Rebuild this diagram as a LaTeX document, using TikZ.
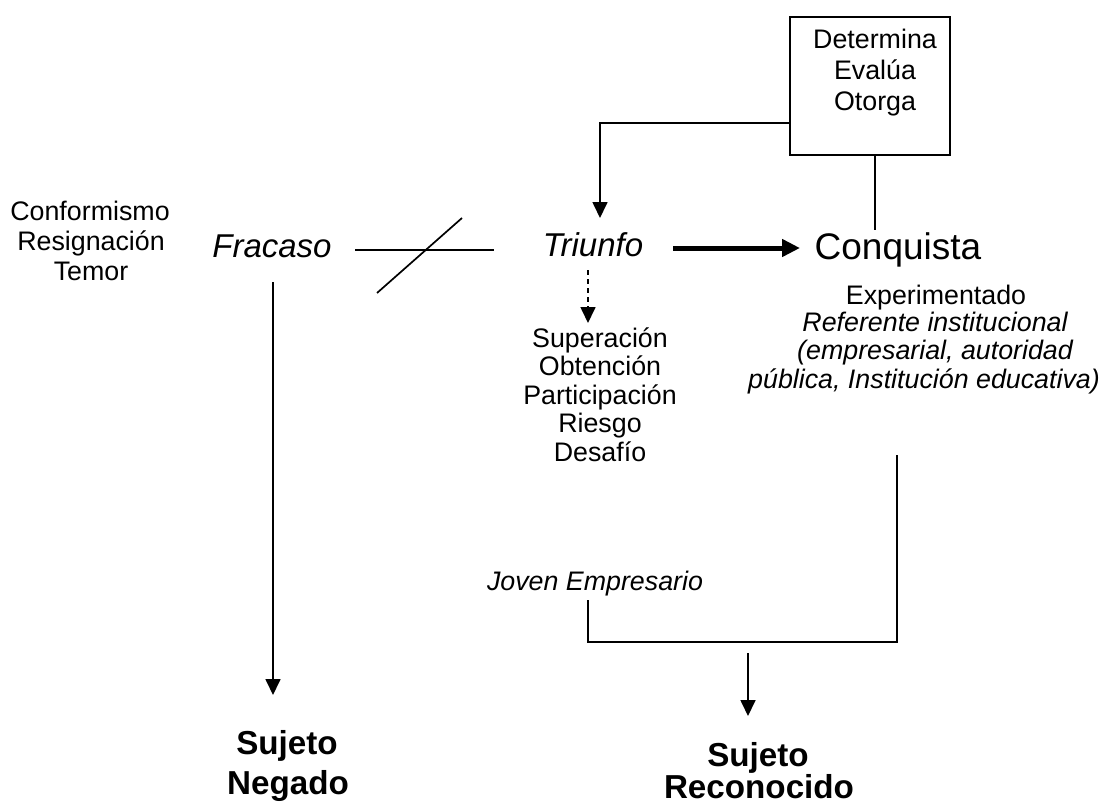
\documentclass[tikz,border=0pt]{standalone}
\usepackage{fontspec}
\setmainfont{Liberation Sans}
\usetikzlibrary{arrows.meta}
\tikzset{
  txt/.style={inner sep=0pt, anchor=base, font=\fontsize{26.8}{31}\selectfont},
  itsm/.style={inner sep=0pt, anchor=base, font=\fontsize{26.8}{31}\selectfont\itshape},
  big/.style={inner sep=0pt, anchor=base, font=\fontsize{33}{38}\selectfont\itshape},
  conq/.style={inner sep=0pt, anchor=base, font=\fontsize{37}{42}\selectfont},
  boldtxt/.style={inner sep=0pt, anchor=base, font=\fontsize{33.2}{38}\selectfont\bfseries},
  conn/.style={line width=1.7pt},
  arr/.style={conn, -{Triangle[length=16pt,width=15pt]}},
  thickarr/.style={line width=5pt, -{Triangle[length=18pt,width=17pt]}},
  boxst/.style={draw, line width=1.7pt, minimum width=160pt, minimum height=138pt, inner sep=0pt}
}
\begin{document}
\begin{tikzpicture}[x=1pt,y=-1pt]
\useasboundingbox (0,0) rectangle (1107,805);
% box
\node[boxst] (box) at (870,86) {};
\node[txt] (det) at (875,49) {Determina};
\node[txt] (eva) at (875,80) {Evalúa};
\node[txt] (oto) at (875,111) {Otorga};
% left list
\node[txt] (conf) at (90,220) {Conformismo};
\node[txt] (resig) at (91,250) {Resignación};
\node[txt] (temor) at (91,280) {Temor};
% main words
\node[big] (fracaso) at (272,257) {Fracaso};
\node[big] (triunfo) at (593,256) {Triunfo};
\node[conq] (conquista) at (898,259) {Conquista};
% under triunfo
\node[txt] (sup) at (600,347) {Superación};
\node[txt] (obt) at (600,375) {Obtención};
\node[txt] (part) at (600,404) {Participación};
\node[txt] (ries) at (600,432) {Riesgo};
\node[txt] (desa) at (600,461) {Desafío};
% under conquista
\node[txt] (exp) at (936,304) {Experimentado};
\node[itsm] (ref) at (935,331) {Referente institucional};
\node[itsm] (emp) at (935,359) {(empresarial, autoridad};
\node[itsm] (pub) at (924,388) {pública, Institución educativa)};
\node[itsm] (joven) at (595,590) {Joven Empresario};
% results
\node[boldtxt] (suj1) at (287,754) {Sujeto};
\node[boldtxt] (neg) at (288,794) {Negado};
\node[boldtxt] (suj2) at (758,766) {Sujeto};
\node[boldtxt] (rec) at (759,798) {Reconocido};
% coordinates
\coordinate (bl) at (790,123);
\coordinate (bc) at (600,123);
\coordinate (tt) at (600,218);
\coordinate (bb) at (875,155);
\coordinate (ct) at (875,230);
\coordinate (ta) at (673,248);
\coordinate (tb) at (800,248);
\coordinate (ha) at (355,250);
\coordinate (hb) at (494,250);
\coordinate (sa) at (377,293);
\coordinate (sb) at (462,218);
\coordinate (fa) at (273,282);
\coordinate (fb) at (273,695);
\coordinate (da) at (588,270);
\coordinate (db) at (588,323);
\coordinate (ra) at (897,455);
\coordinate (rb) at (897,642);
\coordinate (rc) at (588,642);
\coordinate (rd) at (588,600);
\coordinate (ma) at (748,653);
\coordinate (mb) at (748,716);
% connectors
\draw[arr] (bl) -- (bc) -- (tt);
\draw[conn] (bb) -- (ct);
\draw[thickarr] (ta) -- (tb);
\draw[conn] (ha) -- (hb);
\draw[conn] (sa) -- (sb);
\draw[arr] (fa) -- (fb);
\draw[arr, dash pattern=on 5pt off 4pt] (da) -- (db);
\draw[conn] (ra) -- (rb) -- (rc) -- (rd);
\draw[arr] (ma) -- (mb);
\end{tikzpicture}
\end{document}
